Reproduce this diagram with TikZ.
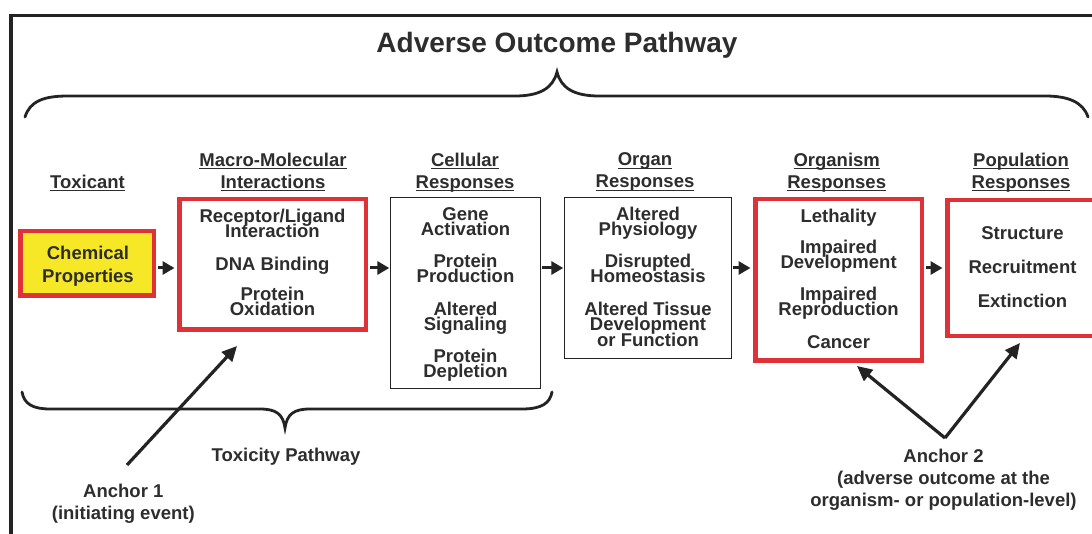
\documentclass[tikz,border=0pt]{standalone}
\usepackage{fontspec}
\setmainfont{Liberation Sans}
\usetikzlibrary{arrows.meta}
\definecolor{txt}{RGB}{45,45,45}
\definecolor{aopred}{RGB}{222,50,56}
\definecolor{aopyel}{RGB}{246,232,38}
\definecolor{darkln}{RGB}{35,35,35}
\newcommand\hdrul[1]{\setbox0\hbox{#1}\rlap{\rule[-3pt]{\wd0}{1.2pt}}\box0}
\begin{document}
\begin{tikzpicture}[x=1pt,y=-1pt,
  redbox/.style={draw=aopred,line width=4.5pt,inner sep=0pt},
  blkbox/.style={draw=darkln,line width=1.4pt,inner sep=0pt,fill=white},
  btxt/.style={font={\fontsize{18.5}{15}\selectfont\bfseries\lineskiplimit=-50pt\relax},text=txt,align=center,inner sep=0pt,anchor=north},
  hdr/.style={font={\fontsize{18.5}{22}\selectfont\bfseries\lineskiplimit=-50pt\relax},text=txt,align=center,inner sep=0pt,anchor=north},
  lbl/.style={font={\fontsize{18.5}{22}\selectfont\bfseries\lineskiplimit=-50pt\relax},text=txt,align=center,inner sep=0pt},
  flow/.style={line width=3pt,draw=darkln,-{Triangle[length=12pt,width=13pt]},shorten >=2.5pt,shorten <=2pt},
  anc/.style={line width=3.2pt,draw=darkln,-{Triangle[length=15pt,width=14pt]}},
  brace/.style={line width=2.8pt,draw=darkln,line cap=round}
]
\useasboundingbox (0,0) rectangle (1092,534);
\clip (0,0) rectangle (1092,534);
\fill[white] (0,0) rectangle (1092,534);
% outer frame
\draw[darkln,line width=3.5pt] (10.8,560) -- (10.8,15.7) -- (1110,15.7);

% title and top brace
\node[font={\fontsize{28}{30}\selectfont\bfseries},text=txt,anchor=base,inner sep=0pt] (title) at (557,53) {Adverse Outcome Pathway};
\draw[brace] (25,117) .. controls (30,101) and (44,96) .. (68,96) -- (515,96)
  .. controls (540,96) and (553,88) .. (557,72)
  .. controls (561,88) and (574,96) .. (599,96) -- (1045,96)
  .. controls (1068,96) and (1083,102) .. (1088,117);

% headers
\node[hdr] (hTox) at (87.5,174.7) {\hdrul{Toxicant}};
\node[hdr] (hMac) at (273,152.7) {\hdrul{Macro-Molecular}\\\hdrul{Interactions}};
\node[hdr] (hCel) at (465,152.7) {\hdrul{Cellular}\\\hdrul{Responses}};
\node[hdr] (hOrg) at (645,152.7) {\hdrul{Organ}\\\hdrul{Responses}};
\node[hdr] (hOrm) at (836.7,152.7) {\hdrul{Organism}\\\hdrul{Responses}};
\node[hdr] (hPop) at (1021,152.7) {\hdrul{Population}\\\hdrul{Responses}};

% boxes
\node[redbox,fill=aopyel,minimum width=133.5pt,minimum height=64.5pt] (chem) at (87,263.5) {};
\node[redbox,fill=white,minimum width=186.5pt,minimum height=130.5pt] (macro) at (272.5,264.5) {};
\node[blkbox,minimum width=149.6pt,minimum height=190.6pt] (cell) at (465.5,293) {};
\node[blkbox,minimum width=166.6pt,minimum height=160.6pt] (organ) at (648,278) {};
\node[redbox,fill=white,minimum width=166.5pt,minimum height=161.5pt] (orgm) at (838.5,280) {};
\node[redbox,fill=white,minimum width=160pt,minimum height=136pt] (pop) at (1027.25,268) {};

% box texts
\node[btxt] (chemT) at (88,246) {Chemical\\[8pt]Properties};
\node[btxt] (macroT) at (272.5,209) {Receptor/Ligand\\Interaction\\[18pt]DNA Binding\\[15pt]Protein\\Oxidation};
\node[btxt] (cellT) at (465.5,207) {Gene\\Activation\\[17pt]Protein\\Production\\[18pt]Altered\\Signaling\\[17pt]Protein\\Depletion};
\node[btxt] (organT) at (648,207) {Altered\\Physiology\\[17pt]Disrupted\\Homeostasis\\[18pt]Altered Tissue\\Development\\[1pt]or Function};
\node[btxt] (orgmT) at (838.6,209) {Lethality\\[16pt]Impaired\\Development\\[17pt]Impaired\\Reproduction\\[18pt]Cancer};
\node[btxt] (popT) at (1022.5,226) {Structure\\[19pt]Recruitment\\[19pt]Extinction};

% flow arrows
\coordinate (row) at (0,268);
\draw[flow] (chem.east |- row) -- (macro.west |- row);
\draw[flow,shorten >=0.7pt,shorten <=2.2pt] (macro.east |- row) -- (cell.west |- row);
\draw[flow,shorten >=0.7pt,shorten <=0.7pt] (cell.east |- row) -- (organ.west |- row);
\draw[flow,shorten <=0.7pt] (organ.east |- row) -- (orgm.west |- row);
\draw[flow,shorten <=2.2pt] (orgm.east |- row) -- (pop.west |- row);

% bottom brace
\draw[brace] (22,392) .. controls (24,404) and (33,409) .. (50,409) -- (260,409)
  .. controls (276,409) and (283,414) .. (285,428)
  .. controls (287,414) and (294,409) .. (310,409) -- (522,409)
  .. controls (542,409) and (550,403) .. (552,392);
\node[lbl,anchor=base] (toxpath) at (286,461) {Toxicity Pathway};

% anchors
\node[lbl,anchor=north] (anc1) at (123.3,483.7) {Anchor 1\\(initiating event)};
\node[lbl,anchor=north] (anc2) at (943.5,448.7) {Anchor 2\\(adverse outcome at the\\organism- or population-level)};
\coordinate (a1from) at (127,465);
\coordinate (a1to) at (237,346);
\coordinate (a2from) at (945,438);
\coordinate (a2toL) at (857,366);
\coordinate (a2toR) at (1020,343);
\draw[anc] (a1from) -- (a1to);
\draw[anc] (a2from) -- (a2toL);
\draw[anc] (a2from) -- (a2toR);
\end{tikzpicture}
\end{document}
